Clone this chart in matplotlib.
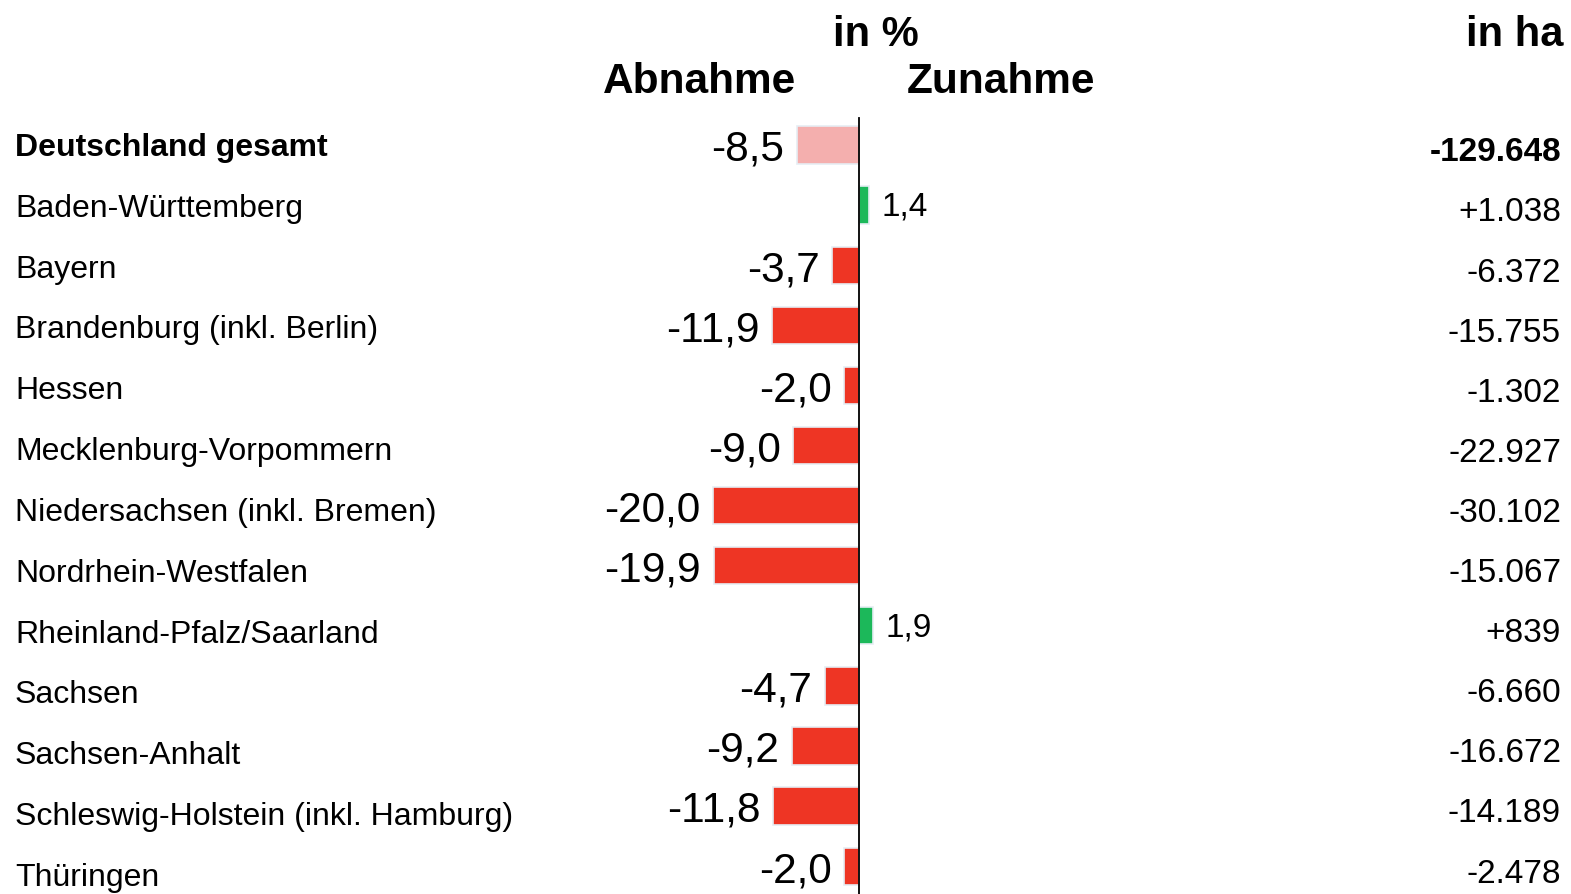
import matplotlib.pyplot as plt
from matplotlib import transforms

plt.rcParams['font.family'] = ['Liberation Sans', 'DejaVu Sans']

laender = ['Deutschland gesamt', 'Baden-Württemberg', 'Bayern', 'Brandenburg (inkl. Berlin)',
           'Hessen', 'Mecklenburg-Vorpommern', 'Niedersachsen (inkl. Bremen)',
           'Nordrhein-Westfalen', 'Rheinland-Pfalz/Saarland', 'Sachsen', 'Sachsen-Anhalt',
           'Schleswig-Holstein (inkl. Hamburg)', 'Thüringen']
prozent = [-8.5, 1.4, -3.7, -11.9, -2.0, -9.0, -20.0, -19.9, 1.9, -4.7, -9.2, -11.8, -2.0]
hektar = ['-129.648', '+1.038', '-6.372', '-15.755', '-1.302', '-22.927', '-30.102',
          '-15.067', '+839', '-6.660', '-16.672', '-14.189', '-2.478']

W, H = 1571, 894
fig = plt.figure(figsize=(W / 100, H / 100), dpi=100)
ax = fig.add_axes([0, 0, 1, 1])

# zero line at x=859 px, ~7.3 px per percent; rows at 145 px + 60.1 px steps
px_per_unit = 7.3
ax.set_xlim(-859 / px_per_unit, (W - 859) / px_per_unit)
row0, step = 145, 60.1
ax.set_ylim((H - row0) / step, -row0 / step)
ax.axis('off')

rot = '#ee3524'
rosa = '#f4afae'
gruen = '#1cb85a'

lab_tr = transforms.blended_transform_factory(fig.transFigure, ax.transData)

for i, (name, p, ha_val) in enumerate(zip(laender, prozent, hektar)):
    gesamt = i == 0
    if p < 0:
        farbe = rosa if gesamt else rot
    else:
        farbe = gruen
    ax.barh(i, p, height=0.62, color=farbe, edgecolor='#e6edf3', linewidth=1.2)

    if p < 0:
        tr = transforms.offset_copy(ax.transData, fig=fig, x=-9, y=0, units='points')
        ax.text(p, i + 0.08, f'{p:.1f}'.replace('.', ','), transform=tr, ha='right',
                va='center', fontsize=30.5)
    else:
        tr = transforms.offset_copy(ax.transData, fig=fig, x=9, y=0, units='points')
        ax.text(p, i + 0.03, f'{p:.1f}'.replace('.', ','), transform=tr, ha='left',
                va='center', fontsize=24)

    # the row labels drift slightly against the bar rows
    y_lab = (148 + 60.83 * i - row0) / step
    ax.text(15 / W, y_lab, name, transform=lab_tr, ha='left', va='center',
            fontsize=23, fontweight='bold' if gesamt else 'normal')
    ax.text(1561 / W, i + 0.13, ha_val, transform=lab_tr, ha='right', va='center',
            fontsize=24, fontweight='bold' if gesamt else 'normal')

ax.plot([0, 0], [-0.45, (H - row0) / step], color='black', linewidth=1.3)

fig.text(876 / W, 1 - 46 / H, 'in %', ha='center', va='baseline', fontsize=30,
         fontweight='bold')
fig.text(796 / W, 1 - 93 / H, 'Abnahme', ha='right', va='baseline', fontsize=30.5,
         fontweight='bold')
fig.text(907 / W, 1 - 93 / H, 'Zunahme', ha='left', va='baseline', fontsize=30.5,
         fontweight='bold')
fig.text(1563 / W, 1 - 46 / H, 'in ha', ha='right', va='baseline', fontsize=30,
         fontweight='bold')

fig.savefig('out.png', dpi=100)
